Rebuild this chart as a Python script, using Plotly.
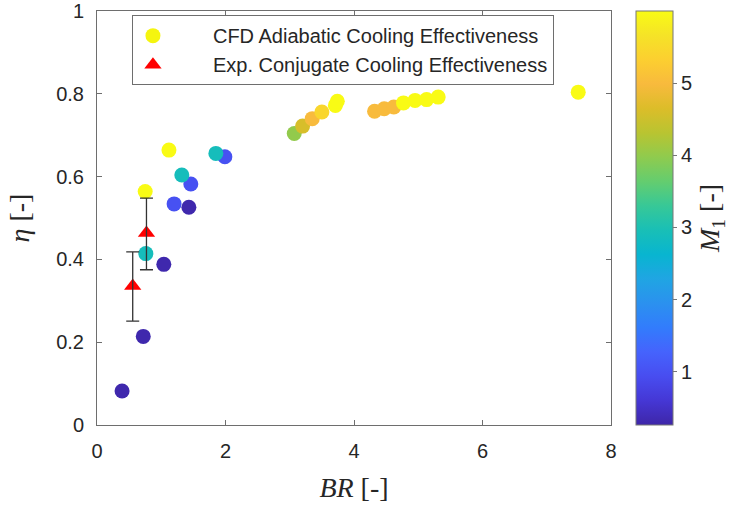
import plotly.graph_objects as go

# ---------------- data ----------------
cfd_br = [0.39, 0.72, 1.04, 1.43,
          1.20, 1.46, 1.99,
          0.76, 1.32, 1.85,
          0.75, 1.12,
          3.07, 3.20, 3.35, 3.50, 3.71, 3.74,
          4.32, 4.47, 4.62, 4.77, 4.95, 5.13, 5.31,
          7.49]
cfd_eta = [0.082, 0.214, 0.388, 0.526,
           0.534, 0.582, 0.648,
           0.414, 0.604, 0.656,
           0.564, 0.664,
           0.704, 0.722, 0.740, 0.756, 0.772, 0.782,
           0.758, 0.764, 0.768, 0.778, 0.784, 0.786, 0.792,
           0.804]
cfd_m1 = [0.3, 0.3, 0.3, 0.3,
          1.0, 1.0, 1.0,
          2.9, 2.9, 2.9,
          6.0, 6.0,
          4.0, 4.6, 5.0, 5.45, 6.0, 6.0,
          5.0, 5.0, 5.0, 6.0, 6.0, 6.0, 6.0,
          6.0]

exp_br = [0.556, 0.77]
exp_eta = [0.336, 0.464]
exp_err_plus = [0.082, 0.084]
exp_err_minus = [0.085, 0.089]

m1_min, m1_max = 0.26, 6.0
cbar_ticks = [1, 2, 3, 4, 5]
x_ticks = [0, 2, 4, 6, 8]
y_ticks = [0, 0.2, 0.4, 0.6, 0.8, 1]
y_ticktext = ["0", "0.2", "0.4", "0.6", "0.8", "1"]

legend_names = ["CFD Adiabatic Cooling Effectiveness", "Exp. Conjugate Cooling Effectiveness"]

# ---------------- parula colormap ----------------
parula = [
    (0.2422, 0.1504, 0.6603), (0.2706, 0.2147, 0.8364), (0.2813, 0.3006, 0.9414),
    (0.2699, 0.3892, 0.9906), (0.1963, 0.4847, 0.9892), (0.1687, 0.5703, 0.9359),
    (0.1248, 0.6459, 0.8883), (0.0297, 0.7082, 0.8163), (0.0964, 0.7500, 0.7120),
    (0.2161, 0.7843, 0.5923), (0.3909, 0.8029, 0.4354), (0.5616, 0.7942, 0.3045),
    (0.7242, 0.7698, 0.1910), (0.8634, 0.7406, 0.1596), (0.9728, 0.7298, 0.2394),
    (0.9892, 0.8136, 0.1885), (0.9610, 0.8890, 0.1537), (0.9769, 0.9839, 0.0805),
]
n = len(parula)
colorscale = [[i / (n - 1), "rgb(%d,%d,%d)" % tuple(int(round(c * 255)) for c in col)]
              for i, col in enumerate(parula)]

tick_font = dict(family="Liberation Sans, Arial, sans-serif", size=20, color="#262626")
title_font = dict(family="Liberation Serif, Times New Roman, serif", size=28, color="#262626")

fig = go.Figure()

# CFD points (coloured by M1)
fig.add_trace(go.Scatter(
    x=cfd_br, y=cfd_eta, mode="markers", showlegend=False,
    marker=dict(size=15, color=cfd_m1, colorscale=colorscale, cmin=m1_min, cmax=m1_max,
                line=dict(width=0),
                colorbar=dict(
                    x=1.0486, xanchor="left", xref="paper", y=0.5, yanchor="middle",
                    len=1.0, lenmode="fraction", thickness=37, thicknessmode="pixels",
                    outlinecolor="#777777", outlinewidth=1,
                    tickvals=cbar_ticks, ticks="outside", ticklen=4, tickcolor="#777777",
                    tickfont=tick_font, ypad=0, xpad=0,
                    title=dict(text="<i>M</i><sub>1</sub> [-]", side="right", font=title_font),
                )),
))

# Experimental triangles
fig.add_trace(go.Scatter(
    x=exp_br, y=exp_eta, mode="markers", showlegend=False,
    marker=dict(size=15, color="#ff0000", symbol="triangle-up", line=dict(width=0)),
))

# Error bars on top
fig.add_trace(go.Scatter(
    x=exp_br, y=exp_eta, mode="markers", showlegend=False, hoverinfo="skip",
    marker=dict(size=1, color="rgba(0,0,0,0)"),
    error_y=dict(type="data", symmetric=False, array=exp_err_plus, arrayminus=exp_err_minus,
                 color="#333333", thickness=1.3, width=6.5),
))

# Legend-only entries
pad = "\u2003\u2003"
fig.add_trace(go.Scatter(x=[None], y=[None], mode="markers", name=pad + legend_names[0],
                         marker=dict(size=15, color="#f5f50f")))
fig.add_trace(go.Scatter(x=[None], y=[None], mode="markers", name=pad + legend_names[1],
                         marker=dict(size=15, color="#ff0000", symbol="triangle-up")))

axis_common = dict(showline=True, linecolor="#6e6e6e", linewidth=1, mirror="ticks",
                   ticks="inside", ticklen=5, tickcolor="#6e6e6e", tickfont=tick_font,
                   showgrid=False, zeroline=False, ticklabelstandoff=8,
                   ticklabeloverflow="allow", automargin=False)

fig.update_layout(
    width=735, height=511,
    margin=dict(l=97, r=124, t=11, b=86, autoexpand=False),
    paper_bgcolor="white", plot_bgcolor="white",
    xaxis=dict(range=[0, 8], tickvals=x_ticks,
               title=dict(text="<i>BR</i> [-]", font=title_font, standoff=16),
               **axis_common),
    yaxis=dict(range=[0, 1], tickvals=y_ticks, ticktext=y_ticktext,
               title=dict(text="<i>η</i> [-]", font=title_font, standoff=18), **axis_common),
    legend=dict(x=0.068, xanchor="left", y=0.99, yanchor="top",
                bgcolor="white", bordercolor="#6e6e6e", borderwidth=1,
                font=dict(family="Liberation Sans, Arial, sans-serif", size=20, color="#262626"),
                tracegroupgap=0),
)

fig.write_html("out.html")
